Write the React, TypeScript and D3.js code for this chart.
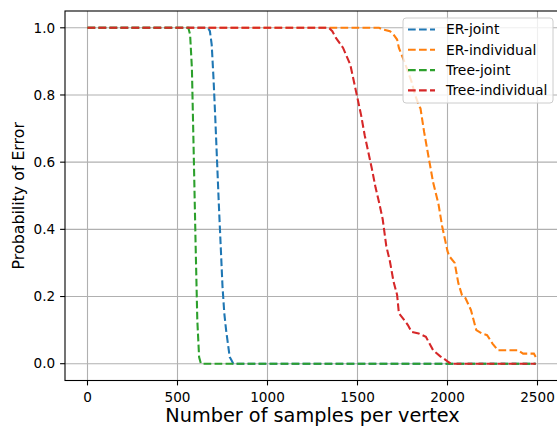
import React, { useRef, useEffect } from "react";
import * as d3 from "d3";

// axis ticks
const xTicks = [0, 500, 1000, 1500, 2000, 2500];
const yTicks = [0, 0.2, 0.4, 0.6, 0.8, 1.0];

// series
const erJointX = [0, 670, 680, 690, 700, 710, 720, 730, 740, 750, 760, 770, 780, 790, 800, 810, 2490];
const erJointY = [1, 1, 0.99, 0.95, 0.85, 0.73, 0.6, 0.47, 0.35, 0.23, 0.15, 0.1, 0.06, 0.02, 0.01, 0, 0];

const erIndivX = [0, 1620, 1640, 1680, 1700, 1720, 1730, 1760, 1780, 1800, 1820, 1840, 1850, 1870, 1900, 1920, 1950, 1970, 1990, 2000, 2010, 2040, 2060, 2080, 2100, 2130, 2160, 2190, 2220, 2250, 2280, 2390, 2420, 2480, 2490];
const erIndivY = [1, 1, 0.995, 0.99, 0.98, 0.965, 0.94, 0.9, 0.87, 0.84, 0.8, 0.77, 0.76, 0.69, 0.6, 0.54, 0.475, 0.41, 0.36, 0.335, 0.32, 0.3, 0.24, 0.205, 0.195, 0.16, 0.1, 0.09, 0.085, 0.06, 0.04, 0.04, 0.03, 0.03, 0.02];

const treeJointX = [0, 560, 570, 580, 590, 600, 610, 620, 630, 2490];
const treeJointY = [1, 1, 0.98, 0.88, 0.63, 0.37, 0.13, 0.02, 0, 0];

const treeIndivX = [0, 1340, 1360, 1380, 1400, 1420, 1440, 1460, 1480, 1500, 1520, 1540, 1560, 1580, 1600, 1620, 1640, 1660, 1680, 1700, 1720, 1730, 1760, 1780, 1800, 1840, 1880, 1900, 1920, 1960, 1980, 2000, 2020, 2490];
const treeIndivY = [1, 1, 0.99, 0.97, 0.955, 0.94, 0.915, 0.89, 0.84, 0.79, 0.74, 0.68, 0.63, 0.58, 0.525, 0.48, 0.43, 0.35, 0.305, 0.245, 0.205, 0.15, 0.13, 0.115, 0.095, 0.09, 0.08, 0.06, 0.04, 0.022, 0.015, 0.007, 0, 0];

const seriesNames = ["ER-joint", "ER-individual", "Tree-joint", "Tree-individual"];
const seriesColors = ["#1f77b4", "#ff7f0e", "#2ca02c", "#d62728"];
const seriesX = [erJointX, erIndivX, treeJointX, treeIndivX];
const seriesY = [erJointY, erIndivY, treeJointY, treeIndivY];

const FONT = "DejaVu Sans, sans-serif";

const App = () => {
  const ref = useRef<SVGSVGElement>(null);

  useEffect(() => {
    const svg = d3.select(ref.current);
    svg.selectAll("*").remove();

    const left = 65;
    const right = 560;
    const top = 11;
    const bottom = 380.5;

    const xScale = d3.scaleLinear().domain([-125, 2625]).range([left, right]);
    const yScale = d3.scaleLinear().domain([-0.05, 1.05]).range([bottom, top]);

    svg.append("rect").attr("width", 557).attr("height", 427).attr("fill", "#fff");

    // grid
    const grid = svg.append("g");
    xTicks.forEach((t) => {
      grid
        .append("line")
        .attr("x1", xScale(t))
        .attr("x2", xScale(t))
        .attr("y1", top)
        .attr("y2", bottom)
        .attr("stroke", "#b0b0b0")
        .attr("stroke-width", 1.1);
    });
    yTicks.forEach((t) => {
      grid
        .append("line")
        .attr("x1", left)
        .attr("x2", right)
        .attr("y1", yScale(t))
        .attr("y2", yScale(t))
        .attr("stroke", "#b0b0b0")
        .attr("stroke-width", 1.1);
    });

    // lines
    const lineGenerator = d3
      .line<[number, number]>()
      .x((d) => xScale(d[0]))
      .y((d) => yScale(d[1]));

    seriesX.forEach((xs, i) => {
      const pts: [number, number][] = xs.map((x, j) => [x, seriesY[i][j]]);
      svg
        .append("path")
        .datum(pts)
        .attr("fill", "none")
        .attr("stroke", seriesColors[i])
        .attr("stroke-width", 2.08)
        .attr("stroke-dasharray", "7.7 3.3")
        .attr("d", lineGenerator);
    });

    // spines
    svg
      .append("rect")
      .attr("x", left)
      .attr("y", top)
      .attr("width", right - left)
      .attr("height", bottom - top)
      .attr("fill", "none")
      .attr("stroke", "#000")
      .attr("stroke-width", 1.1);

    // ticks
    const ticks = svg.append("g").attr("font-family", FONT).attr("font-size", 13.6);
    xTicks.forEach((t) => {
      ticks
        .append("line")
        .attr("x1", xScale(t))
        .attr("x2", xScale(t))
        .attr("y1", bottom)
        .attr("y2", bottom + 4.9)
        .attr("stroke", "#000")
        .attr("stroke-width", 1.1);
      ticks
        .append("text")
        .attr("x", xScale(t))
        .attr("y", 402)
        .attr("text-anchor", "middle")
        .text(String(t));
    });
    yTicks.forEach((t) => {
      ticks
        .append("line")
        .attr("x1", left - 4.9)
        .attr("x2", left)
        .attr("y1", yScale(t))
        .attr("y2", yScale(t))
        .attr("stroke", "#000")
        .attr("stroke-width", 1.1);
      ticks
        .append("text")
        .attr("x", left - 9.8)
        .attr("y", yScale(t))
        .attr("dy", "0.35em")
        .attr("text-anchor", "end")
        .text(t.toFixed(1));
    });

    // labels
    svg
      .append("text")
      .attr("x", (left + right) / 2)
      .attr("y", 422)
      .attr("text-anchor", "middle")
      .attr("font-family", FONT)
      .attr("font-size", 19.3)
      .text("Number of samples per vertex");

    svg
      .append("text")
      .attr("transform", `translate(24,${(top + bottom) / 2}) rotate(-90)`)
      .attr("text-anchor", "middle")
      .attr("font-family", FONT)
      .attr("font-size", 15.8)
      .text("Probability of Error");

    // legend
    const lg = svg.append("g").attr("font-family", FONT).attr("font-size", 13.9);
    lg.append("rect")
      .attr("x", 403)
      .attr("y", 18)
      .attr("width", 150)
      .attr("height", 85)
      .attr("rx", 3)
      .attr("fill", "#fff")
      .attr("fill-opacity", 0.8)
      .attr("stroke", "#cccccc")
      .attr("stroke-width", 1);
    seriesNames.forEach((name, i) => {
      const cy = 29.5 + i * 20.3;
      lg.append("line")
        .attr("x1", 408)
        .attr("x2", 435)
        .attr("y1", cy)
        .attr("y2", cy)
        .attr("stroke", seriesColors[i])
        .attr("stroke-width", 2.08)
        .attr("stroke-dasharray", "7.7 3.3");
      lg.append("text")
        .attr("x", 446)
        .attr("y", cy)
        .attr("dy", "0.35em")
        .attr("fill", "#000")
        .text(name);
    });
  }, []);

  return (
    <svg
      ref={ref}
      width={557}
      height={427}
      style={{ position: "absolute", left: 0, top: 0, display: "block" }}
    ></svg>
  );
};

export default App;
